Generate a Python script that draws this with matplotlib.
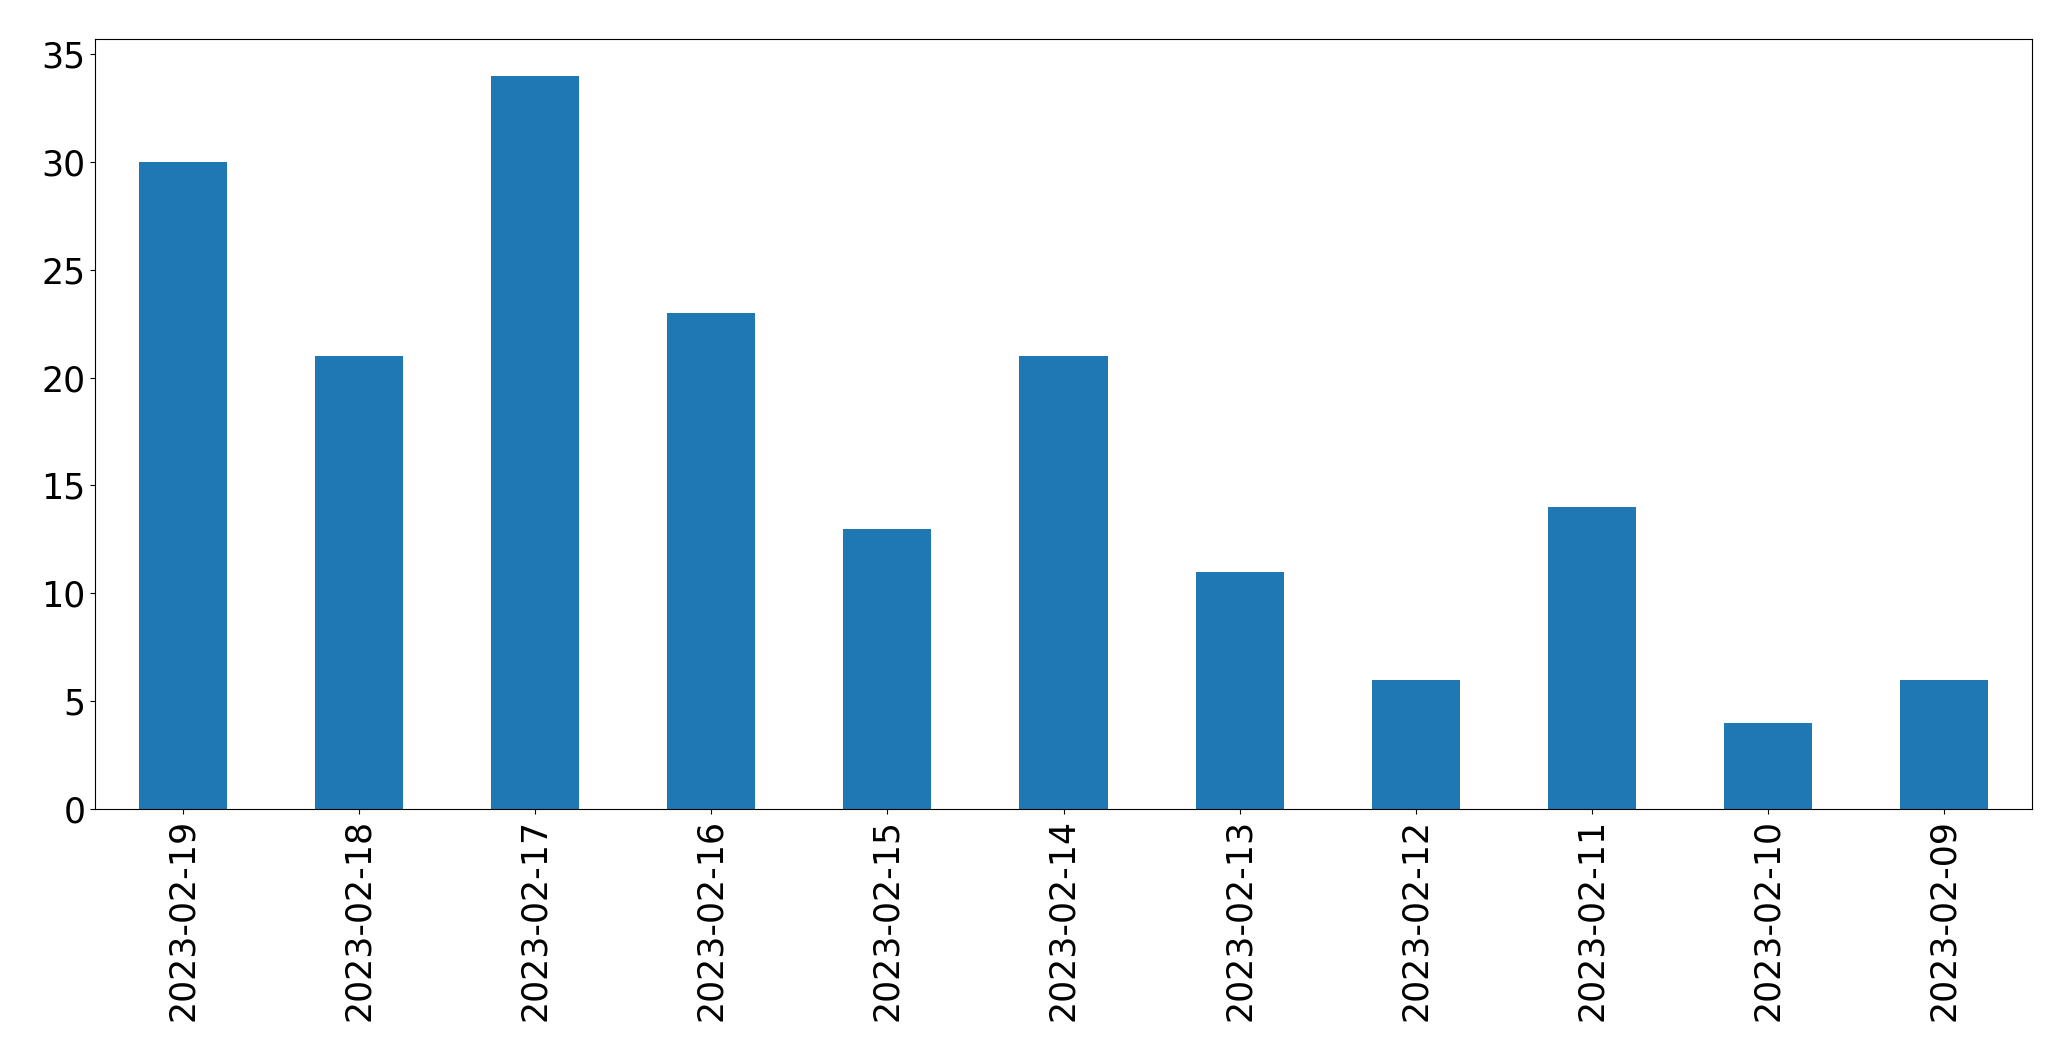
import numpy as np
import matplotlib
matplotlib.use("Agg")
import matplotlib.pyplot as plt

dates = ["2023-02-19", "2023-02-18", "2023-02-17", "2023-02-16", "2023-02-15",
         "2023-02-14", "2023-02-13", "2023-02-12", "2023-02-11", "2023-02-10",
         "2023-02-09"]
counts = [30, 21, 34, 23, 13, 21, 11, 6, 14, 4, 6]

fig = plt.figure(figsize=(20.71, 10.61), dpi=100)
ax = fig.add_axes([95 / 2071, 1 - 809 / 1061, (2032 - 95) / 2071, (809 - 39) / 1061])

x = np.arange(len(dates))
ax.bar(x, counts, width=0.5, color="#1f77b4")
ax.set_xlim(-0.5, len(dates) - 0.5)
ax.set_xticks(x)
ax.set_xticklabels(dates, rotation=90)
ax.tick_params(axis="both", labelsize=25)

fig.savefig("out.png", dpi=100)
